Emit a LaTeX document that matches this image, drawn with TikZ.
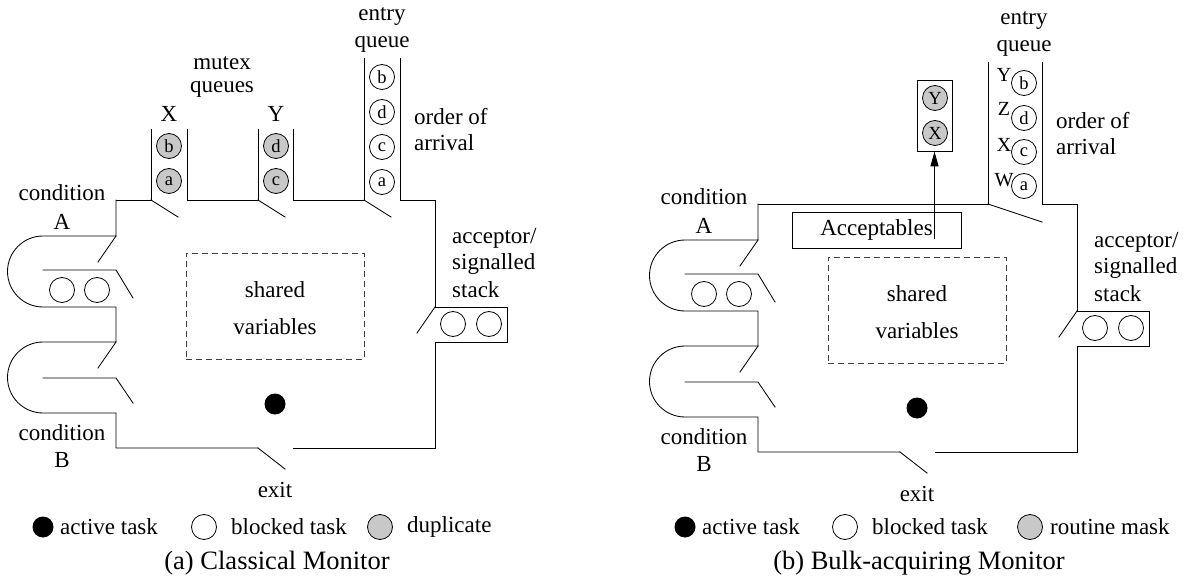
\documentclass[tikz,border=0pt]{standalone}
\usepackage{fontspec}
\setmainfont{Liberation Serif}
\usetikzlibrary{arrows.meta}
\definecolor{dupgray}{RGB}{200,200,200}
\tikzset{
  wall/.style={line width=0.85pt, line join=miter, line cap=rect},
  qcirc/.style={circle, draw, line width=0.8pt, minimum size=25pt, inner sep=0pt, font=\fontsize{18.5}{18.5}\selectfont},
  dupc/.style={qcirc, fill=dupgray},
  activedot/.style={circle, fill=black, minimum size=21pt, inner sep=0pt},
  lbl/.style={font=\fontsize{23}{27}\selectfont, inner sep=0pt},
  caplbl/.style={font=\fontsize{26.5}{30}\selectfont, inner sep=0pt},
  dashbox/.style={draw=black!75, dash pattern=on 6pt off 4pt, line width=0.8pt, minimum width=178pt, minimum height=106pt, inner sep=0pt},
  plainbox/.style={draw, line width=0.85pt, inner sep=0pt},
}
\newcommand\monitorcommon{%
  \draw[wall] (116,200) -- (116,236) -- (43,236) arc[start angle=90,end angle=270,radius=35.5pt]
     -- (116,307) -- (116,342) -- (43,342) arc[start angle=90,end angle=270,radius=35.5pt]
     -- (116,413) -- (116,448) -- (258,448);
  \draw[wall] (400,58) -- (400,200) -- (435,200) -- (435,307) -- (507,307) -- (507,342)
     -- (435,342) -- (435,448) -- (293,448);
  \draw[wall] (116,236) -- (98,262);
  \draw[wall] (116,342) -- (98,368);
  \draw[wall] (43,270) -- (116,270) -- (133,298);
  \draw[wall] (43,378) -- (116,378) -- (133,403);
  \draw[wall] (435,307) -- (417,333);
  \draw[wall] (258,448) -- (285,469);
  \node[qcirc] (ca1) at (62,290) {};
  \node[qcirc] (ca2) at (97,290) {};
  \node[qcirc] (st1) at (453,324) {};
  \node[qcirc] (st2) at (489,324) {};
  \node[dashbox] (sv) at (275,306) {};
  \node[lbl] (sh) at (275,290) {shared};
  \node[lbl] (va) at (275,327) {variables};
  \node[activedot] (act) at (275,404) {};
  \node[lbl] (condA) at (62,193) {condition};
  \node[lbl] (labA) at (62,222) {A};
  \node[lbl] (condB) at (62,433) {condition};
  \node[lbl] (labB) at (62,460) {B};
  \node[lbl] (ent) at (382,17) {entry};
  \node[lbl] (que) at (382,44) {queue};
  \node[lbl, anchor=west] (ord) at (414,117) {order of};
  \node[lbl, anchor=west] (arr) at (414,143) {arrival};
  \node[lbl, anchor=west] (acc1) at (452,238) {acceptor/};
  \node[lbl, anchor=west] (acc2) at (452,264) {signalled};
  \node[lbl, anchor=west] (acc3) at (452,290) {stack};
  \node[lbl] (ex) at (275,490) {exit};
}
\begin{document}
\begin{tikzpicture}[x=1pt, y=-1pt]
\useasboundingbox (0,0) rectangle (1184,580);
% ---------------- (a) Classical Monitor ----------------
\begin{scope}[name prefix=L-]
  \monitorcommon
  \draw[wall] (151,129) -- (151,200) -- (116,200);
  \draw[wall] (187,129) -- (187,200) -- (258,200) -- (258,129);
  \draw[wall] (293,129) -- (293,200) -- (364,200) -- (364,58);
  \draw[wall] (151,200) -- (178,217);
  \draw[wall] (258,200) -- (285,217);
  \draw[wall] (364,200) -- (391,217);
  \node[dupc] (xb) at (169,146) {b};
  \node[dupc] (xa) at (169,181) {a};
  \node[dupc] (yd) at (276,146) {d};
  \node[dupc] (yc) at (276,181) {c};
  \node[qcirc] (eb) at (382,77) {b};
  \node[qcirc] (ed) at (382,112) {d};
  \node[qcirc] (ec) at (382,147) {c};
  \node[qcirc] (ea) at (382,182) {a};
  \node[lbl] (mu) at (222,63) {mutex};
  \node[lbl] (mq) at (222,89) {queues};
  \node[lbl] (lx) at (169,114) {X};
  \node[lbl] (ly) at (276,114) {Y};
\end{scope}
% ---------------- (b) Bulk-acquiring Monitor ----------------
\begin{scope}[shift={(642,4)}, name prefix=R-]
  \monitorcommon
  \draw[wall] (346,58) -- (346,200) -- (116,200);
  \draw[wall] (346,200) -- (400,218);
  \node[qcirc] (eb) at (382,79) {b};
  \node[qcirc] (ed) at (382,114) {d};
  \node[qcirc] (ec) at (382,148) {c};
  \node[qcirc] (ea) at (382,182) {a};
  \node[lbl, font=\fontsize{20}{20}\selectfont] (ty) at (362,71) {Y};
  \node[lbl, font=\fontsize{20}{20}\selectfont] (tz) at (362,105) {Z};
  \node[lbl, font=\fontsize{20}{20}\selectfont] (tx) at (362,141) {X};
  \node[lbl, font=\fontsize{20}{20}\selectfont] (tw) at (362,176) {W};
  \node[plainbox, lbl, minimum width=169pt, minimum height=36pt] (accb) at (234.5,226) {Acceptables};
  \node[plainbox, minimum width=35pt, minimum height=71pt] (xyb) at (292.5,111.5) {};
  \node[dupc] (my) at (293,94) {Y};
  \node[dupc] (mx) at (293,129) {X};
  \coordinate (arrs) at (292.5,235);
  \draw[line width=0.9pt, -{Triangle[length=15pt,width=8pt]}] (arrs) -- (xyb.south);
\end{scope}
% ---------------- legends ----------------
\node[activedot] (lg1) at (43,527) {};
\node[lbl, anchor=west] (lt1) at (60,527) {active task};
\node[qcirc] (lg2) at (204,527) {};
\node[lbl, anchor=west] (lt2) at (231,527) {blocked task};
\node[dupc] (lg3) at (380,527) {};
\node[lbl, anchor=west] (lt3) at (407,527) {duplicate};
\node[caplbl] (capa) at (277,563) {(a) Classical Monitor};
\node[activedot] (rg1) at (685,527) {};
\node[lbl, anchor=west] (rt1) at (702,527) {active task};
\node[qcirc] (rg2) at (845,527) {};
\node[lbl, anchor=west] (rt2) at (872,527) {blocked task};
\node[dupc] (rg3) at (1030,527) {};
\node[lbl, anchor=west] (rt3) at (1050,527) {routine mask};
\node[caplbl] (capb) at (919,563) {(b) Bulk-acquiring Monitor};
\end{tikzpicture}
\end{document}
